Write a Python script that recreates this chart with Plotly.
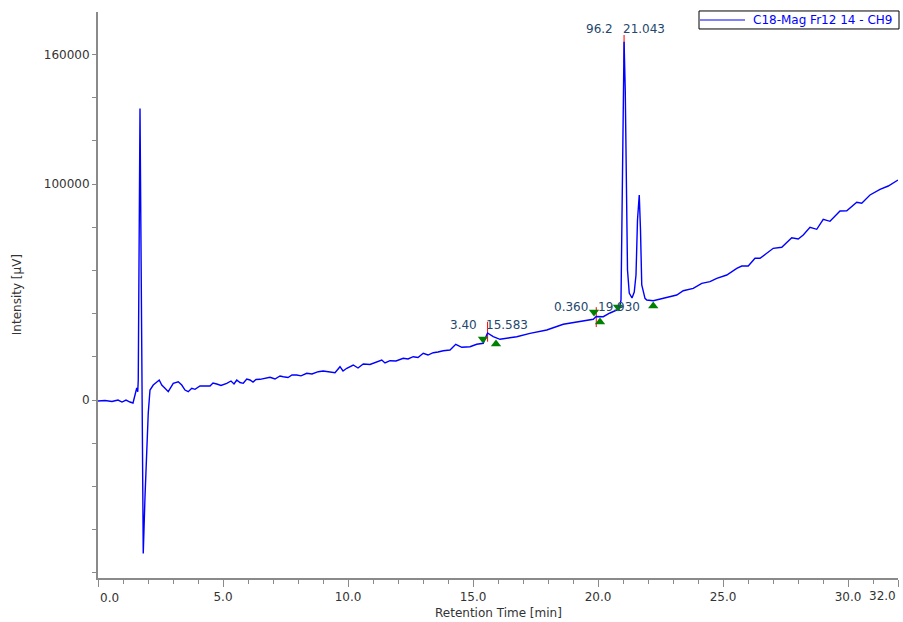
import plotly.graph_objects as go

# Chromatogram trace (retention time [min], intensity [µV])
rt = [0.00, 0.28, 0.56, 0.80, 0.96, 1.12, 1.28, 1.40, 1.48, 1.55, 1.59, 1.61, 1.68, 1.75, 1.81, 1.88,
      1.95, 2.01, 2.08, 2.21, 2.45, 2.55, 2.68, 2.81, 3.01, 3.21, 3.35, 3.48, 3.61, 3.75, 3.88, 4.08,
      4.48, 4.60, 4.75, 4.92, 5.15, 5.32, 5.44, 5.55, 5.68, 5.81, 5.95, 6.08, 6.20, 6.32, 6.48, 6.68,
      6.88, 7.08, 7.28, 7.41, 7.60, 7.76, 7.95, 8.12, 8.35, 8.56, 8.81, 9.01, 9.48, 9.68, 9.80, 9.95,
      10.21, 10.40, 10.61, 10.88, 11.15, 11.35, 11.48, 11.68, 11.92, 12.21, 12.40, 12.61, 12.80, 13.01,
      13.20, 13.41, 13.60, 13.81, 14.08, 14.31, 14.55, 14.88, 15.15, 15.41, 15.58, 15.81, 16.08, 16.40,
      16.75, 17.28, 17.95, 18.61, 19.28, 19.81, 19.93, 20.21, 20.48, 20.75, 20.85, 20.92, 20.96, 21.00,
      21.043, 21.09, 21.13, 21.18, 21.25, 21.36, 21.45, 21.52, 21.58, 21.65, 21.70, 21.75, 21.88, 21.95,
      22.21, 22.75, 23.15, 23.41, 23.81, 24.15, 24.48, 24.75, 25.15, 25.55, 25.75, 26.01, 26.28, 26.48,
      27.01, 27.35, 27.75, 28.01, 28.21, 28.48, 28.75, 29.01, 29.28, 29.68, 29.95, 30.35, 30.55, 30.88,
      31.28, 31.61, 32.00]
intensity = [-460, -230, -690, 0, -930, 0, -930, -1390, 2310, 5560, 3840, 9260, 135000, 40300, -71000, -44800,
             -18500, -6000, 4630, 6940, 9260, 6940, 5420, 3840, 7730, 8470, 6940, 4630, 3840, 5420, 4950, 6480,
             6480, 7870, 7410, 6710, 7730, 8800, 7410, 9260, 8100, 7730, 9720, 9260, 8330, 9490, 9580, 10190,
             10510, 9720, 11110, 10790, 10420, 11570, 11570, 11200, 12360, 12040, 13100, 13430, 12640, 15420, 13430, 14680,
             16200, 14810, 16670, 16430, 17730, 18520, 17130, 18190, 18060, 19310, 18980, 20050, 19680, 21620,
             20830, 21900, 22220, 22820, 23150, 25790, 24400, 24680, 25790, 26250, 31020, 29310, 28100, 28700,
             29310, 30880, 32410, 35050, 36250, 37360, 38660, 38560, 40280, 41670, 42130, 46300, 92590, 148100,
             165900, 143500, 92590, 60190, 49540, 47220, 50000, 57870, 83330, 94910, 78700, 53240, 47080, 46300,
             45970, 47360, 48610, 50600, 51710, 54030, 54770, 56340, 57870, 60970, 62040, 62040, 65600, 65600,
             70230, 70690, 75140, 74540, 76390, 79950, 79030, 83660, 82730, 87500, 87640, 91530, 91070, 94910,
             97550, 99070, 101850]

series_name = "C18-Mag Fr12 14 - CH9"

# Integrated peaks
peak_rt = [15.583, 19.930, 21.043]
peak_area_pct = ["3.40", "0.360", "96.2"]
peak_rt_label = ["15.583", "19.930", "21.043"]
marker_top = [36100, 43000, 169000]
marker_bottom = [27000, 33800, 156000]
label_y = [34720, 43060, 171760]
area_label_x = [14.62, 18.90, 20.04]
rt_label_x = [16.34, 20.82, 21.82]
start_rt = [15.40, 19.84, 20.80]
start_y = [28200, 40740, 43060]
end_rt = [15.92, 20.08, 22.21]
end_y = [25930, 36110, 43520]

y_tick_vals = list(range(-80000, 180000, 20000))
y_tick_labeled = {0: "0", 100000: "100000", 160000: "160000"}
x_tick_vals = [0, 5, 10, 15, 20, 25, 30, 32]
x_tick_text = ["", "5.0", "10.0", "15.0", "20.0", "25.0", "30.0", ""]

FONT = "DejaVu Sans"
TXT = "#333333"
AX = "#8a8a8a"
LBL = "#24476e"

fig = go.Figure()

# red apex markers (under the trace)
rx, ry = [], []
for t, a, b in zip(peak_rt, marker_top, marker_bottom):
    rx += [t, t, None]
    ry += [a, b, None]
fig.add_trace(go.Scatter(x=rx, y=ry, mode="lines", line=dict(color="#ff0000", width=1),
                         showlegend=False, hoverinfo="skip"))

fig.add_trace(go.Scatter(x=rt, y=intensity, mode="lines", name=series_name, showlegend=False,
                         line=dict(color="#0000ff", width=1.4)))

fig.add_trace(go.Scatter(x=start_rt, y=start_y, mode="markers",
                         marker=dict(symbol="triangle-down", size=9, color="#008000"),
                         showlegend=False, hoverinfo="skip"))
fig.add_trace(go.Scatter(x=end_rt, y=end_y, mode="markers",
                         marker=dict(symbol="triangle-up", size=9, color="#008000"),
                         showlegend=False, hoverinfo="skip"))

annotations = []
for ax_, rx_, ly, ap, rl in zip(area_label_x, rt_label_x, label_y, peak_area_pct, peak_rt_label):
    annotations.append(dict(x=ax_, y=ly, xref="x", yref="y", text=ap, showarrow=False,
                            font=dict(family=FONT, size=12, color=LBL)))
    annotations.append(dict(x=rx_, y=ly, xref="x", yref="y", text=rl, showarrow=False,
                            font=dict(family=FONT, size=12, color=LBL)))

annotations += [
    dict(x=0, y=-0.036, xref="x", yref="paper", text="0.0", showarrow=False, xanchor="left",
         yanchor="middle", font=dict(family=FONT, size=12, color=TXT)),
    dict(x=32, y=-0.031, xref="x", yref="paper", text="32.0", showarrow=False, xanchor="right",
         yanchor="middle", font=dict(family=FONT, size=12, color=TXT)),
    dict(x=0.5, y=-0.062, xref="paper", yref="paper", text="Retention Time [min]", showarrow=False,
         xanchor="center", yanchor="middle", font=dict(family=FONT, size=12, color=TXT)),
    dict(x=-0.101, y=0.5, xref="paper", yref="paper", text="Intensity [µV]", showarrow=False,
         textangle=-90, xanchor="center", yanchor="middle", font=dict(family=FONT, size=12, color=TXT)),
    # legend text
    dict(x=0.8160, y=0.9859, xref="paper", yref="paper", text=series_name, showarrow=False,
         xanchor="left", yanchor="middle", font=dict(family=FONT, size=12, color="#0000ff")),
]

shapes = [
    dict(type="rect", xref="paper", yref="paper", x0=0.75125, x1=1.00125, y0=0.970, y1=1.0018,
         line=dict(color="#000000", width=1), fillcolor="white", layer="above"),
    dict(type="line", xref="paper", yref="paper", x0=0.7525, x1=0.80875, y0=0.9859, y1=0.9859,
         line=dict(color="#0000ff", width=1.2), layer="above"),
]

fig.update_layout(
    template="none",
    width=903, height=622,
    margin=dict(l=98, r=5, t=12, b=44, autoexpand=False),
    paper_bgcolor="white", plot_bgcolor="white",
    font=dict(family=FONT, size=12, color=TXT),
    showlegend=False,
    annotations=annotations,
    shapes=shapes,
    xaxis=dict(range=[0, 32], showgrid=False, zeroline=False, showline=True, linecolor=AX, linewidth=2,
               tickmode="array", tickvals=x_tick_vals, ticktext=x_tick_text, ticks="outside",
               ticklen=7, tickwidth=1, tickcolor=AX, tickfont=dict(family=FONT, size=12, color=TXT),
               minor=dict(tickmode="linear", tick0=0, dtick=1, ticks="outside", ticklen=4,
                          tickcolor=AX, tickwidth=1, showgrid=False),
               automargin=False, mirror=False),
    yaxis=dict(range=[-82400, 179630], showgrid=False, zeroline=False, showline=True, linecolor=AX,
               linewidth=2, tickmode="array", tickvals=y_tick_vals,
               ticktext=[y_tick_labeled.get(v, "") for v in y_tick_vals], ticks="outside", ticklen=4,
               tickwidth=1, tickcolor=AX, tickfont=dict(family=FONT, size=12, color=TXT),
               automargin=False, mirror=False),
)

fig.write_html("out.html", config={"displayModeBar": False},
               post_script="document.body.style.margin='0px';document.body.style.overflow='hidden';")
